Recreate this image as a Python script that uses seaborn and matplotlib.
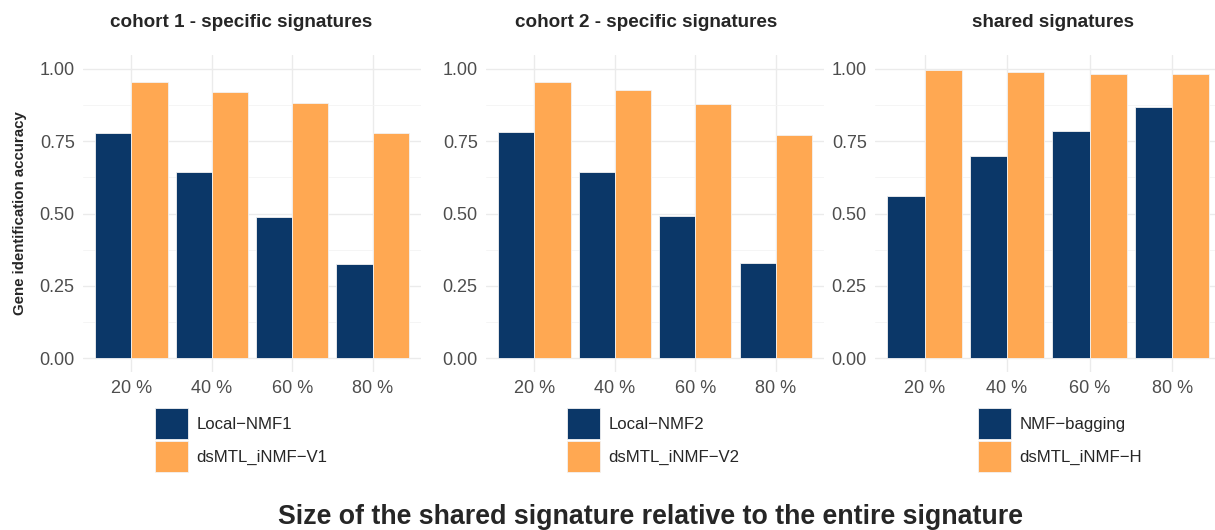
import pandas as pd
import numpy as np
import matplotlib.pyplot as plt
import seaborn as sns

sizes = ["20 %", "40 %", "60 %", "80 %"]

titles = ["cohort 1 - specific signatures", "cohort 2 - specific signatures", "shared signatures"]
method_a = ["Local\u2212NMF1", "Local\u2212NMF2", "NMF\u2212bagging"]
method_b = ["dsMTL_iNMF\u2212V1", "dsMTL_iNMF\u2212V2", "dsMTL_iNMF\u2212H"]

cohort1_local = [0.778, 0.645, 0.487, 0.327]
cohort1_dsmtl = [0.953, 0.919, 0.882, 0.777]
cohort2_local = [0.781, 0.644, 0.490, 0.329]
cohort2_dsmtl = [0.954, 0.926, 0.879, 0.773]
shared_bagging = [0.562, 0.698, 0.784, 0.869]
shared_dsmtl = [0.995, 0.990, 0.983, 0.982]

series_a = [cohort1_local, cohort2_local, shared_bagging]
series_b = [cohort1_dsmtl, cohort2_dsmtl, shared_dsmtl]

NAVY = "#0B3768"
ORANGE = "#FFA852"

sns.set_style("white")
plt.rcParams["font.family"] = ["Liberation Sans", "DejaVu Sans"]

W, H = 1215, 530
fig = plt.figure(figsize=(W / 100, H / 100), dpi=100)

# panel boxes in pixels: left, right, top, bottom
boxes = [(83, 421, 55, 372), (486, 824, 55, 372), (875, 1215, 55, 372)]
xlims = [(-0.6, 3.6), (-0.6, 3.6), (-0.6, 3.52)]
title_x = [0.467, 0.475, 0.524]
legend_x = [0.213, 0.240, 0.303]

for i in range(3):
    l, r, t, b = boxes[i]
    ax = fig.add_axes([l / W, (H - b) / H, (r - l) / W, (b - t) / H])
    df = pd.DataFrame({
        "size": sizes * 2,
        "method": [method_a[i]] * 4 + [method_b[i]] * 4,
        "acc": series_a[i] + series_b[i],
    })
    sns.barplot(data=df, x="size", y="acc", hue="method", ax=ax,
                palette=[NAVY, ORANGE], width=0.9, edgecolor="#f2f2f2",
                linewidth=0.6, saturation=1, errorbar=None)
    ax.set_ylim(-0.048, 1.048)
    ax.set_xlim(*xlims[i])
    ax.set_yticks([0, 0.25, 0.5, 0.75, 1.0])
    ax.set_yticklabels(["0.00", "0.25", "0.50", "0.75", "1.00"])
    ax.set_yticks([0.125, 0.375, 0.625, 0.875], minor=True)
    ax.grid(True, which="major", color="#EBEBEB", linewidth=1.0)
    ax.grid(True, which="minor", axis="y", color="#F4F4F4", linewidth=0.6)
    ax.set_axisbelow(True)
    for s in ax.spines.values():
        s.set_visible(False)
    ax.tick_params(axis="both", length=0, labelsize=13, labelcolor="#4D4D4D", pad=6)
    ax.set_xlabel("")
    ax.set_ylabel("")
    ax.set_title(titles[i], fontsize=13.6, fontweight="bold", pad=20, x=title_x[i])
    handles, labels = ax.get_legend_handles_labels()
    ax.legend(handles, labels, loc="upper left", bbox_to_anchor=(legend_x[i], -0.115),
              frameon=False, fontsize=12.1, handlelength=1.97, handleheight=2.46,
              labelspacing=0.1, handletextpad=0.5, borderpad=0, borderaxespad=0)
    if i == 0:
        ax.set_ylabel("Gene identification accuracy", fontsize=10.8, fontweight="bold", labelpad=9)

fig.text(651 / W, 1 - 517 / H, "Size of the shared signature relative to the entire signature",
         ha="center", va="center", fontsize=19.3, fontweight="bold")

fig.savefig("out.png", dpi=100)
